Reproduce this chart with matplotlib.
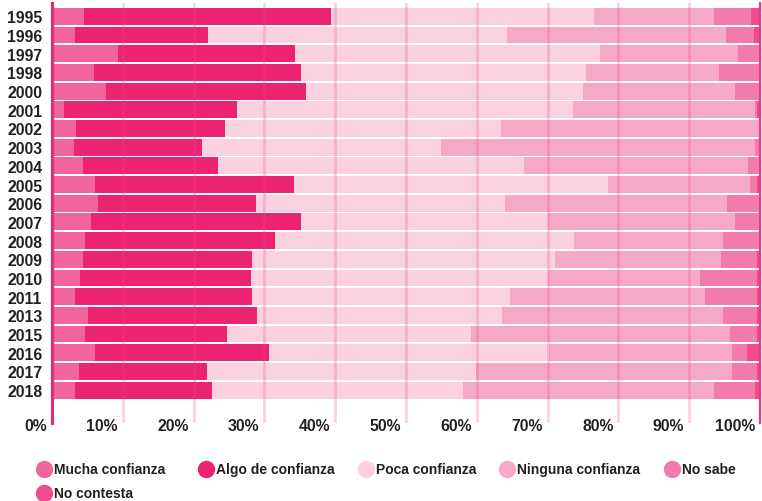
import matplotlib
matplotlib.use("Agg")
import matplotlib.pyplot as plt
from matplotlib.lines import Line2D
from matplotlib.transforms import offset_copy
import numpy as np

plt.rcParams['font.family'] = ['Liberation Sans', 'DejaVu Sans']

years = ["1995", "1996", "1997", "1998", "2000", "2001", "2002", "2003", "2004",
         "2005", "2006", "2007", "2008", "2009", "2010", "2011", "2013", "2015",
         "2016", "2017", "2018"]
mucha = [4.5, 3.2, 9.3, 5.9, 7.6, 1.7, 3.4, 3.1, 4.4, 6.1, 6.5, 5.5, 4.7, 4.4, 4.0, 3.2, 5.1, 4.7, 6.1, 3.8, 3.2]
algo = [34.9, 18.8, 25.0, 29.3, 28.3, 24.4, 21.0, 18.1, 19.0, 28.1, 22.3, 29.7, 26.8, 23.8, 24.1, 25.0, 23.9, 20.0, 24.5, 18.1, 19.4]
poca = [37.2, 42.3, 43.1, 40.2, 39.1, 47.5, 39.0, 33.7, 43.3, 44.3, 35.2, 34.9, 42.2, 42.9, 42.0, 36.5, 34.5, 34.5, 39.6, 38.0, 35.4]
ninguna = [16.9, 30.9, 19.5, 18.8, 21.5, 25.7, 36.4, 44.4, 31.6, 20.1, 31.3, 26.4, 21.1, 23.4, 21.4, 27.6, 31.3, 36.6, 25.8, 36.2, 35.5]
no_sabe = [5.2, 4.0, 2.9, 5.7, 3.3, 0.3, 0.1, 0.5, 1.6, 1.0, 4.5, 3.3, 5.1, 5.1, 8.1, 7.3, 4.8, 3.8, 2.2, 3.5, 5.8]
no_contesta = [1.3, 0.8, 0.2, 0.1, 0.2, 0.4, 0.1, 0.2, 0.1, 0.4, 0.2, 0.2, 0.1, 0.4, 0.4, 0.4, 0.4, 0.4, 1.8, 0.4, 0.7]

series_names = ["Mucha confianza", "Algo de confianza", "Poca confianza",
                "Ninguna confianza", "No sabe", "No contesta"]
series = [mucha, algo, poca, ninguna, no_sabe, no_contesta]
colors = ["#F2649C", "#EC2273", "#FBD1E0", "#F6A8C7", "#F37BAC", "#EE4A8E"]
xticks = [0, 10, 20, 30, 40, 50, 60, 70, 80, 90, 100]

W, H = 762, 502
fig = plt.figure(figsize=(W / 100, H / 100), dpi=100)
ax = fig.add_axes([52 / W, 78 / H, 708 / W, (424 - 3.5) / H])

y = np.arange(len(years))
left = np.zeros(len(years))
for vals, c in zip(series, colors):
    v = np.array(vals, dtype=float)
    ax.barh(y, v, left=left, height=0.905, color=c, edgecolor='none', zorder=1)
    left += v

ax.set_xlim(0, 100)
ax.set_ylim(21.76, -0.74)

ax.set_axisbelow(False)
ax.set_xticks(xticks)
ax.set_xticklabels([])
ax.grid(axis='x', color='#EC4A8A', alpha=0.25, linewidth=2)
ax.tick_params(axis='x', length=0)
ax.set_yticks(y)
ax.set_yticklabels(years, fontsize=11.3, fontweight='bold', color='#231F20')
ax.tick_params(axis='y', length=0, pad=7)

for s in ['top', 'bottom']:
    ax.spines[s].set_visible(False)
ax.spines['left'].set_color('#ED2274')
ax.spines['left'].set_linewidth(2.2)
ax.spines['right'].set_color('#EC3580')
ax.spines['right'].set_linewidth(1.6)

tr = offset_copy(ax.get_xaxis_transform(), fig=fig, x=-5, y=0, units='dots')
for t in xticks:
    ax.text(t, -0.006, f"{t}%", transform=tr, ha='right', va='center',
            fontsize=11.3, fontweight='bold', color='#231F20', clip_on=False)

# legend (flow layout positions)
legend_pos = [(36, 470), (198, 470), (358, 470), (499, 470), (663.6, 470), (36, 494)]
for (x0, yc), name, c in zip(legend_pos, series_names, colors):
    fy = (H - yc) / H
    fig.add_artist(Line2D([(x0 + 8) / W], [fy], marker='o', markersize=11.5,
                          color=c, linestyle='none', transform=fig.transFigure))
    fig.text((x0 + 18) / W, fy, name, ha='left', va='center', fontsize=10,
             fontweight='bold', color='#231F20')

fig.savefig("out.png", dpi=100)
